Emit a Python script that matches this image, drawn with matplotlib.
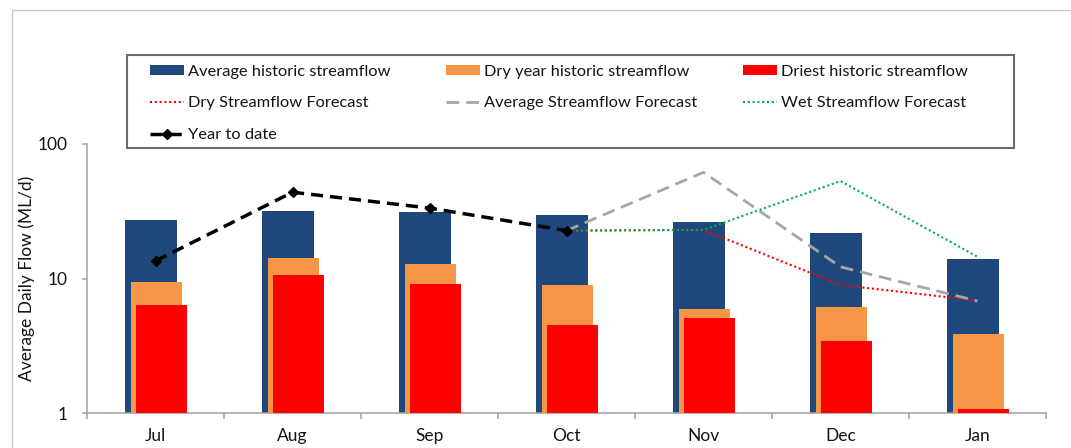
"""Streamflow outlook: historic monthly flows vs forecasts (log scale)."""

import matplotlib

matplotlib.use("Agg")
import matplotlib.pyplot as plt
from matplotlib.patches import Rectangle
import numpy as np

plt.rcParams["font.family"] = ["Lato", "DejaVu Sans"]

# data (ML/d)
months = ["Jul", "Aug", "Sep", "Oct", "Nov", "Dec", "Jan"]
avg_hist = [27.2, 31.9, 31.4, 29.5, 26.4, 21.9, 13.9]
dry_year = [9.4, 14.1, 12.8, 8.95, 5.93, 6.17, 3.87]
driest = [6.4, 10.6, 9.06, 4.5, 5.11, 3.41, 1.08]

ytd_months = ["Jul", "Aug", "Sep", "Oct"]
ytd = [13.5, 43.8, 33.4, 22.7]

fc_months = ["Oct", "Nov", "Dec", "Jan"]
dry_fc = [22.7, 23.0, 8.95, 6.85]
avg_fc = [22.7, 61.6, 12.2, 6.8]
wet_fc = [22.7, 23.0, 53.0, 14.5]

W, H, DPI = 1071, 448, 100
FS = 12.5
LEG_FS = 11.8
leg_px = LEG_FS * DPI / 72

BLUE = "#1F497D"
ORANGE = "#F79646"
RED = "#FF0000"
GREY = "#A6A6A6"
GREEN = "#00B050"
AXIS = "#A0A0A0"
TEXT = "#141414"


def main() -> None:
    fig = plt.figure(figsize=(W / DPI, H / DPI), dpi=DPI)
    ax = fig.add_axes([87 / W, 1 - 413 / H, (1046 - 87) / W, (413 - 144) / H])

    x = np.arange(len(months))
    pos = {m: i for i, m in enumerate(months)}
    b1 = ax.bar(x - 0.032, avg_hist, width=0.385, color=BLUE, zorder=2)
    b2 = ax.bar(x + 0.007, dry_year, width=0.37, color=ORANGE, zorder=3)
    b3 = ax.bar(x + 0.043, driest, width=0.37, color=RED, zorder=4)

    fx = [pos[m] for m in fc_months]
    l_dry, = ax.plot(fx, dry_fc, color=RED, lw=1.5, linestyle=(0, (1, 1.3)), zorder=5)
    l_avg, = ax.plot(fx, avg_fc, color=GREY, lw=2.0, linestyle=(0, (4.6, 2.5)), zorder=6)
    l_wet, = ax.plot(fx, wet_fc, color=GREEN, lw=1.5, linestyle=(0, (1, 1.3)), zorder=7)
    l_ytd, = ax.plot([pos[m] for m in ytd_months], ytd, color="black", lw=2.5,
                     linestyle=(0, (3.5, 2.0)), marker="D", markersize=5, zorder=8)

    ax.set_yscale("log")
    ax.set_ylim(1, 100)
    ax.set_xlim(-0.5, len(months) - 0.5)
    ax.set_yticks([1, 10, 100])
    ax.set_yticklabels(["1", "10", "100"])
    ax.yaxis.set_minor_locator(matplotlib.ticker.NullLocator())
    ax.set_xticks(x)
    ax.set_xticklabels(months)
    ax.set_xticks(np.arange(-0.5, len(months)), minor=True)
    ax.tick_params(axis="x", which="major", length=0, pad=11, labelsize=FS, labelcolor=TEXT)
    ax.tick_params(axis="x", which="minor", length=4.5, width=1.1, color=AXIS)
    ax.tick_params(axis="y", length=3.6, width=1.1, color=AXIS, pad=10, labelsize=FS,
                   labelcolor=TEXT)
    ax.set_ylabel("Average Daily Flow (ML/d)", fontsize=FS, color=TEXT, labelpad=2)
    for side in ("top", "right"):
        ax.spines[side].set_visible(False)
    for side in ("left", "bottom"):
        ax.spines[side].set_color(AXIS)
        ax.spines[side].set_linewidth(1.1)

    # legend: Excel-style equal columns inside a box
    fig.add_artist(Rectangle((126.7 / W, 1 - 147.7 / H), (1014 - 126.7) / W, (147.7 - 55) / H,
                             transform=fig.transFigure, fill=False, edgecolor="#6B6B6B",
                             linewidth=1.5))
    columns = [
        ([b1, l_dry, l_ytd], ["Average historic streamflow", "Dry Streamflow Forecast", "Year to date"]),
        ([b2, l_avg], ["Dry year historic streamflow", "Average Streamflow Forecast"]),
        ([b3, l_wet], ["Driest historic streamflow", "Wet Streamflow Forecast"]),
    ]
    for col_x, (handles, labels) in zip([150, 446, 743], columns):
        leg = fig.legend(handles, labels, loc="upper left",
                         bbox_to_anchor=(col_x / W, 1 - 64.6 / H), bbox_transform=fig.transFigure,
                         frameon=False, borderpad=0, borderaxespad=0, fontsize=LEG_FS,
                         handlelength=34 / leg_px, handleheight=10 / leg_px,
                         handletextpad=4 / leg_px, labelspacing=1.08)
        for t in leg.get_texts():
            t.set_color(TEXT)

    # outer chart-area border
    fig.add_artist(Rectangle((11.5 / W, -1), 2, 2 - 10.5 / H, transform=fig.transFigure,
                             fill=False, edgecolor="#C8C8C8", linewidth=1.0))

    fig.savefig("out.png", dpi=DPI)
    plt.close(fig)


if __name__ == "__main__":
    main()
